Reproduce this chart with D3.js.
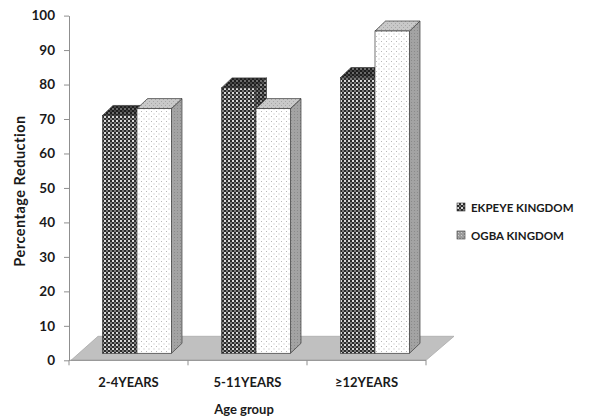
<!DOCTYPE html>
<html>
<head>
<meta charset="utf-8">
<script src="https://cdn.jsdelivr.net/npm/d3@7"></script>
<style>
  html, body { margin: 0; padding: 0; background: #fff; }
  svg { display: block; font-family: Lato, "Open Sans", "Liberation Sans", sans-serif; font-weight: bold; }
</style>
</head>
<body>
<svg id="chart" width="598" height="416"></svg>
<script>
// Age groups on the category axis
const categories = ["2-4YEARS", "5-11YEARS", "≥12YEARS"];
// Percentage reduction per kingdom
const seriesNames = ["EKPEYE KINGDOM", "OGBA KINGDOM"];
const ekpeye = [69, 77, 80];
const ogba = [71, 71, 93.5];
const yTicks = [0, 10, 20, 30, 40, 50, 60, 70, 80, 90, 100];

const svg = d3.select("#chart");
const defs = svg.append("defs");
const ink = "#1a1a1a";

// Fill patterns for the two series
function dotPattern(id, bg, light, mid) {
  const p = defs.append("pattern").attr("id", id).attr("patternUnits", "userSpaceOnUse")
    .attr("width", 4).attr("height", 4);
  p.append("rect").attr("width", 4).attr("height", 4).attr("fill", bg);
  p.append("rect").attr("x", 0).attr("y", 0).attr("width", 2).attr("height", 2).attr("fill", light);
  p.append("rect").attr("x", 2).attr("y", 2).attr("width", 2).attr("height", 2).attr("fill", mid);
}
dotPattern("ekFront", "#2b2b2b", "#d8d8d8", "#7a7a7a");
dotPattern("ekTop", "#1e1e1e", "#6a6a6a", "#444");
dotPattern("ekSide", "#222", "#909090", "#555");

function sparse(id, bg, dot, size) {
  const p = defs.append("pattern").attr("id", id).attr("patternUnits", "userSpaceOnUse")
    .attr("width", size).attr("height", size);
  p.append("rect").attr("width", size).attr("height", size).attr("fill", bg);
  p.append("rect").attr("x", 1).attr("y", 1).attr("width", 1).attr("height", 1).attr("fill", dot);
  p.append("rect").attr("x", 1 + size / 2).attr("y", 1 + size / 2).attr("width", 1).attr("height", 1).attr("fill", dot);
}
sparse("ogFront", "#ffffff", "#b8b8b8", 5);
sparse("ogTop", "#c9c9c9", "#a8a8a8", 4);
const side = defs.append("pattern").attr("id", "ogSide").attr("patternUnits", "userSpaceOnUse")
  .attr("width", 3).attr("height", 3);
side.append("rect").attr("width", 3).attr("height", 3).attr("fill", "#a3a3a3");
side.append("rect").attr("x", 0).attr("y", 0).attr("width", 1).attr("height", 1).attr("fill", "#8a8a8a");
sparse("ogLegend", "#9a9a9a", "#d0d0d0", 3);

const styles = [
  { front: "url(#ekFront)", top: "url(#ekTop)", side: "url(#ekSide)", legend: "url(#ekFront)" },
  { front: "url(#ogFront)", top: "url(#ogTop)", side: "url(#ogSide)", legend: "url(#ogLegend)" }
];

// Scales
const x = d3.scaleBand().domain(categories).range([69, 426]).paddingInner(0).paddingOuter(0);
const y = d3.scaleLinear().domain([0, 100]).range([360.3, 15.6]);
const barW = 34.5;
const inner = d3.scaleBand().domain(seriesNames).range([0, barW * 2]);

// 3D projection: floor depth, bar depth, bar front face placement
const floorD = { dx: 28, dy: -24 };
const frontOff = { dx: 8.5, dy: -7 };
const barD = { dx: 10.5, dy: -10 };

// Floor
const x0 = x.range()[0], x1 = x.range()[1], yb = y(0);
svg.append("polygon")
  .attr("points", [[x0 + 2, yb], [x1, yb], [x1 + floorD.dx, yb + floorD.dy], [x0 + floorD.dx + 1, yb + floorD.dy]].join(" "))
  .attr("fill", "#c0c0c0").attr("stroke", "#a9a9a9").attr("stroke-width", 0.8);

// Bars drawn left to right so nearer neighbours cover hidden side faces
const data = [];
categories.forEach((c, i) => {
  [ekpeye[i], ogba[i]].forEach((v, s) => data.push({ cat: c, s, v }));
});

const bars = svg.append("g").selectAll("g").data(data).join("g");
bars.each(function (d) {
  const g = d3.select(this);
  const bx = x(d.cat) + (x.bandwidth() - barW * 2) / 2 + inner(seriesNames[d.s]) + frontOff.dx;
  const top = y(d.v) + frontOff.dy;
  const bot = y(0) + frontOff.dy;
  const st = styles[d.s];
  const stroke = "#3a3a3a";
  g.append("polygon")
    .attr("points", [[bx + barW, top], [bx + barW + barD.dx, top + barD.dy], [bx + barW + barD.dx, bot + barD.dy], [bx + barW, bot]].join(" "))
    .attr("fill", st.side).attr("stroke", stroke).attr("stroke-width", 0.7);
  g.append("polygon")
    .attr("points", [[bx, top], [bx + barD.dx, top + barD.dy], [bx + barW + barD.dx, top + barD.dy], [bx + barW, top]].join(" "))
    .attr("fill", st.top).attr("stroke", stroke).attr("stroke-width", 0.7);
  g.append("rect")
    .attr("x", bx).attr("y", top).attr("width", barW).attr("height", bot - top)
    .attr("fill", st.front).attr("stroke", stroke).attr("stroke-width", 0.7);
});

// Value axis
const yAxis = svg.append("g").attr("transform", `translate(${x0},0)`)
  .call(d3.axisLeft(y).tickValues(yTicks).tickSize(5).tickSizeOuter(0).tickPadding(9));
yAxis.select(".domain").attr("stroke", "#8f8f8f");
yAxis.selectAll(".tick line").attr("stroke", "#8f8f8f");
yAxis.selectAll(".tick text").attr("font-size", 13.5).attr("font-weight", "bold")
  .attr("font-family", "Lato, sans-serif").attr("fill", ink);

// Category axis: line, boundary ticks, centred labels
const xAxis = svg.append("g").attr("transform", `translate(0,${yb})`);
xAxis.append("line").attr("x1", x0).attr("x2", x1).attr("stroke", "#8f8f8f");
xAxis.selectAll("line.b").data(categories.map(c => x(c) + x.bandwidth()).concat([x0]))
  .join("line").attr("class", "b")
  .attr("x1", d => d).attr("x2", d => d).attr("y1", 0).attr("y2", 5).attr("stroke", "#8f8f8f");
const xLabels = svg.append("g").attr("transform", `translate(0,${yb})`)
  .call(d3.axisBottom(x).tickSize(0).tickPadding(17));
xLabels.select(".domain").remove();
xLabels.selectAll(".tick text").attr("font-size", 13).attr("font-weight", "bold")
  .attr("font-family", "Lato, sans-serif").attr("fill", ink);

// Axis titles
svg.append("text").attr("x", 244).attr("y", 414).attr("text-anchor", "middle")
  .attr("font-size", 13).attr("fill", ink).text("Age group");
svg.append("text").attr("transform", "translate(25,191) rotate(-90)").attr("text-anchor", "middle")
  .attr("font-size", 14.5).attr("letter-spacing", 0.5).attr("fill", ink).text("Percentage Reduction");

// Legend
const legend = svg.append("g").selectAll("g").data(seriesNames).join("g")
  .attr("transform", (d, i) => `translate(457,${203 + i * 28})`);
legend.append("rect").attr("width", 8).attr("height", 8)
  .attr("fill", (d, i) => styles[i].legend).attr("stroke", "#333").attr("stroke-width", 0.6);
legend.append("text").attr("x", 14).attr("y", 8.5).attr("font-size", 11.5).attr("fill", ink).text(d => d);
</script>
</body>
</html>
